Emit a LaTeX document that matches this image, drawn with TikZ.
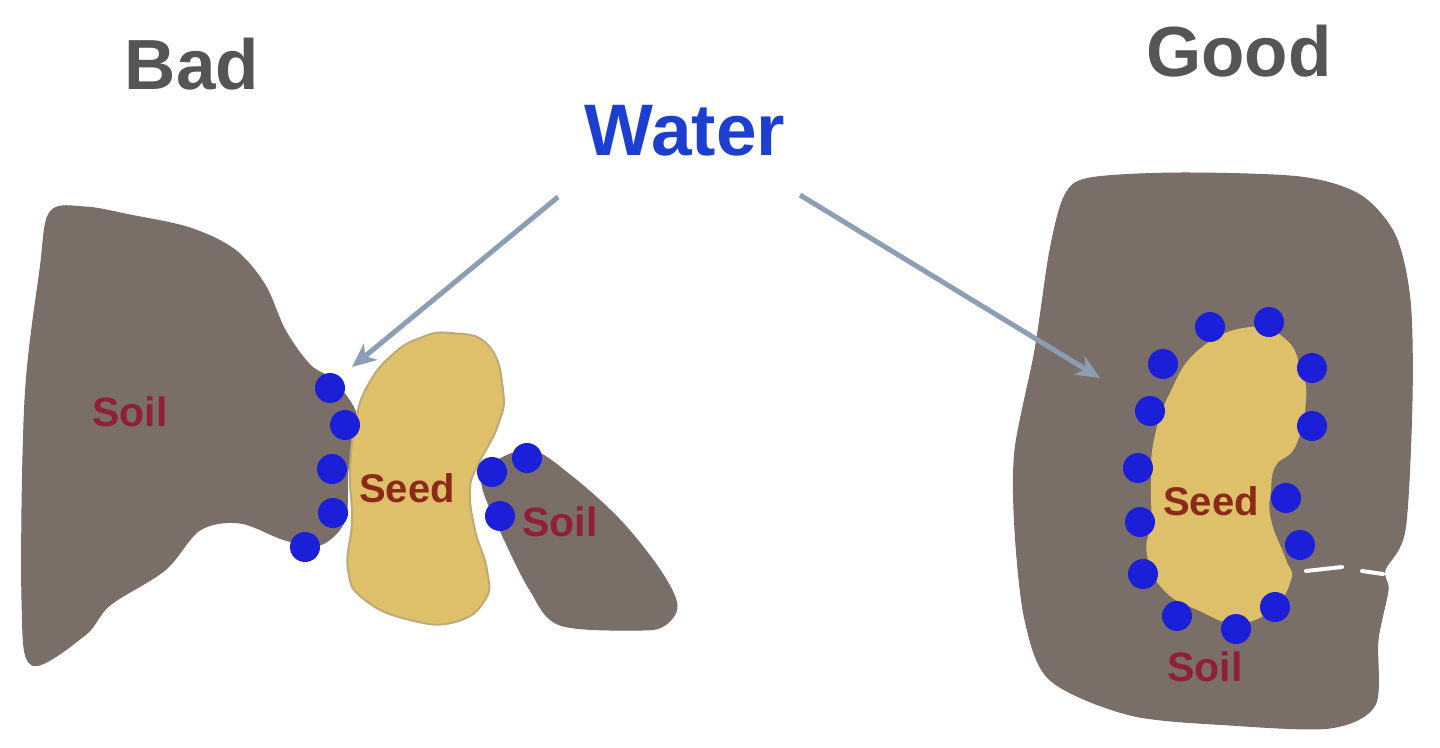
\documentclass[tikz,border=0pt]{standalone}
\usepackage{fontspec}
\setmainfont{Liberation Sans}
\usetikzlibrary{arrows.meta}
\definecolor{soilgrey}{HTML}{7A6E68}
\definecolor{seedfill}{HTML}{DFC06A}
\definecolor{seededge}{HTML}{BCAB78}
\definecolor{dropblue}{HTML}{1B1FD8}
\definecolor{soiltext}{HTML}{8F1F3A}
\definecolor{seedtext}{HTML}{8B2A1A}
\definecolor{watertext}{HTML}{1C3FD0}
\definecolor{titlegrey}{HTML}{555555}
\definecolor{arrowblue}{HTML}{8C9DB4}
\tikzset{
  soilshape/.style={fill=soilgrey,draw=soilgrey,line width=1pt},
  seedshape/.style={fill=seedfill,draw=seededge,line width=2pt},
  waterdrop/.style={circle,fill=dropblue,inner sep=0pt,minimum size=30pt},
  heading/.style={font=\fontsize{71}{71}\bfseries\selectfont,text=titlegrey,inner sep=0pt},
  waterlabel/.style={font=\fontsize{73}{73}\bfseries\selectfont,text=watertext,inner sep=0pt},
  soillabel/.style={font=\fontsize{41}{41}\bfseries\selectfont,text=soiltext,inner sep=0pt},
  seedlabel/.style={font=\fontsize{40}{40}\bfseries\selectfont,text=seedtext,inner sep=0pt},
  flowarrow/.style={draw=arrowblue,line width=5pt,-{Stealth[length=24pt,width=21pt,inset=7pt]}}
}
\begin{document}
\begin{tikzpicture}[x=1pt,y=-1pt]
\useasboundingbox (0,0) rectangle (1440,747);
\fill[white] (0,0) rectangle (1440,747);

% Left soil mass
\draw[soilshape] plot[smooth cycle,tension=0.55] coordinates {
  (50,212) (85,207) (130,215) (190,228) (235,250) (265,285) (285,330) (310,365)
  (335,382) (358,420) (348,470) (345,520) (320,545) (285,540) (240,523) (200,530)
  (165,570) (110,605) (85,635) (32,665) (22,600) (25,400) (40,270)};
% Small soil crumb to the right of the seed
\draw[soilshape] plot[smooth cycle,tension=0.55] coordinates {
  (490,465) (530,450) (570,475) (620,520) (660,570) (677,605) (665,625) (640,630)
  (560,625) (530,590) (500,530) (482,485)};
% Left seed
\draw[seedshape] plot[smooth cycle,tension=0.8] coordinates {
  (450,333) (488,345) (503,390) (498,425) (478,465) (470,490) (475,530) (487,570)
  (485,600) (455,622) (410,620) (365,600) (348,570) (352,520) (350,470) (356,420)
  (368,385) (392,355) (420,338)};

% Right soil mass
\draw[soilshape] plot[smooth cycle,tension=0.5] coordinates {
  (1090,178) (1180,173) (1300,177) (1360,195) (1395,235) (1410,300) (1412,400)
  (1405,530) (1385,570) (1388,590) (1378,640) (1375,705) (1330,728) (1230,725)
  (1130,715) (1050,680) (1025,620) (1015,530) (1015,450) (1035,350) (1050,250)
  (1065,195)};
% Right seed
\draw[seedshape,draw=seedfill] plot[smooth cycle,tension=0.8] coordinates {
  (1250,328) (1285,340) (1300,370) (1305,400) (1295,445) (1275,465) (1270,490)
  (1270,520) (1285,560) (1290,580) (1270,610) (1235,622) (1200,610) (1165,590)
  (1148,555) (1152,520) (1152,480) (1155,440) (1170,395) (1200,350)};
% Crack in the right soil mass
\draw[white,line width=4pt,line cap=round] (1306,571) -- (1342,567);
\draw[white,line width=4pt,line cap=round] (1362,571) -- (1383,574);

% Water films around the left seed
\foreach \x/\y [count=\i] in {330/388,345/425,332/469,333/513,305/547,492/472,527/458,500/516}
  \node[waterdrop] (dropL\i) at (\x,\y) {};
% Water films around the right seed
\foreach \x/\y [count=\i] in {1210/327,1269/322,1163/364,1312/368,1150/411,1312/426,1138/468,1286/498,1140/522,1300/545,1143/574,1275/607,1177/616,1236/629}
  \node[waterdrop] (dropR\i) at (\x,\y) {};

% Labels
\node[heading] (bad) at (192,64) {Bad};
\node[heading] (good) at (1239,51) {Good};
\node[waterlabel] (water) at (685,131) {Water};
\node[soillabel] (soilA) at (130,412) {Soil};
\node[seedlabel] (seedA) at (407,488) {Seed};
\node[soillabel] (soilB) at (560,522) {Soil};
\node[seedlabel] (seedB) at (1211,501) {Seed};
\node[soillabel] (soilC) at (1205,667) {Soil};

% Arrows from the water label
\coordinate (startL) at (558,197);
\coordinate (tipL) at (352,367);
\coordinate (startR) at (800,195);
\coordinate (tipR) at (1100,378);
\draw[flowarrow] (startL) -- (tipL);
\draw[flowarrow] (startR) -- (tipR);
\end{tikzpicture}
\end{document}
